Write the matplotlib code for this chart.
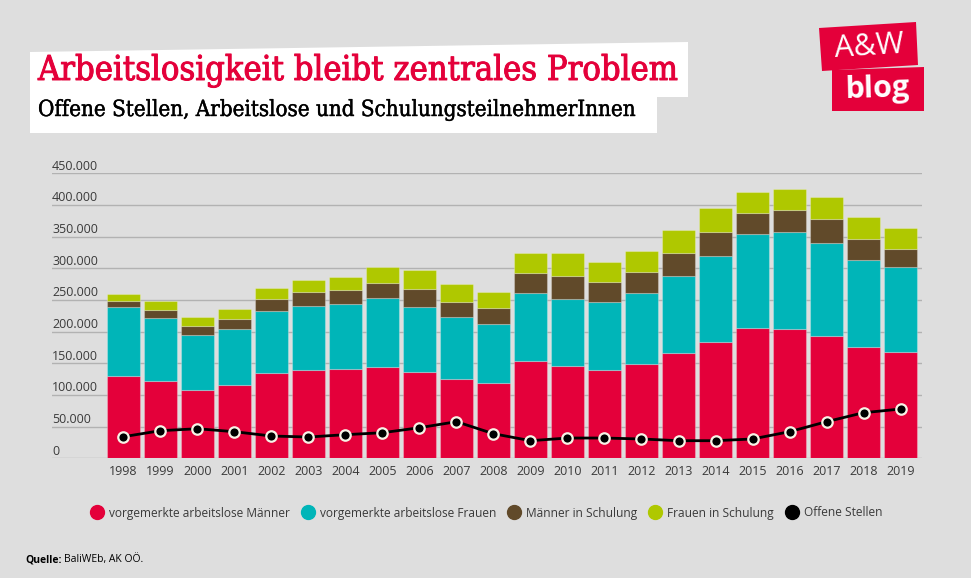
import numpy as np
import matplotlib
matplotlib.use('Agg')
import matplotlib.pyplot as plt
from matplotlib.patches import Polygon
from matplotlib.lines import Line2D
from matplotlib import transforms
import matplotlib.patheffects as pe

years = ['1998', '1999', '2000', '2001', '2002', '2003', '2004', '2005', '2006', '2007', '2008',
         '2009', '2010', '2011', '2012', '2013', '2014', '2015', '2016', '2017', '2018', '2019']

maenner_al = [130000, 122000, 107800, 115700, 134700, 139400, 141000, 144200, 136300, 125200, 118900,
              153800, 145900, 139400, 149000, 166400, 183600, 206000, 204200, 193100, 175700, 168200]
frauen_al = [108900, 99500, 86900, 88500, 97900, 101200, 102800, 108900, 102600, 97900, 93100,
             107200, 105600, 107400, 112000, 121400, 135400, 148000, 152800, 146900, 136900, 133900]
maenner_sch = [9500, 12700, 14200, 15800, 18900, 22000, 21900, 23700, 28400, 23700, 25300,
               31600, 36300, 31700, 33200, 36400, 38000, 33200, 35000, 37800, 34000, 28400]
frauen_sch = [11000, 14200, 14200, 15800, 17400, 18900, 20600, 25300, 30000, 28400, 25300,
              31600, 36400, 31500, 33100, 36100, 38500, 33600, 33500, 35100, 34700, 33000]
offene = [34100, 43600, 46700, 42000, 35200, 33600, 37300, 40400, 48300, 57800, 38800,
          27800, 32000, 32000, 30500, 27800, 27800, 30500, 42000, 57800, 72000, 77800]

labels = ['vorgemerkte arbeitslose Männer', 'vorgemerkte arbeitslose Frauen',
          'Männer in Schulung', 'Frauen in Schulung', 'Offene Stellen']
yticks = [0, 50000, 100000, 150000, 200000, 250000, 300000, 350000, 400000, 450000]

RED = '#e4003a'
CYAN = '#00b5b8'
BROWN = '#614a2a'
GREEN = '#afc800'
BG = '#dedede'
W, H = 971, 578


def fx(x):
    return x / W


def fy(y):
    return 1 - y / H


fig = plt.figure(figsize=(9.71, 5.78), dpi=100, facecolor=BG)
ax = fig.add_axes([fx(52), fy(458.3), 870 / W, 285 / H])
ax.set_facecolor(BG)

x = np.arange(len(years))
b1 = np.array(maenner_al)
b2 = b1 + np.array(frauen_al)
b3 = b2 + np.array(maenner_sch)
ec = (1, 1, 1, 0.25)
ax.bar(x, maenner_al, width=0.9, color=RED, edgecolor=ec, linewidth=0.8, zorder=2)
ax.bar(x, frauen_al, width=0.9, bottom=b1, color=CYAN, edgecolor=ec, linewidth=0.8, zorder=2)
ax.bar(x, maenner_sch, width=0.9, bottom=b2, color=BROWN, edgecolor=ec, linewidth=0.8, zorder=2)
ax.bar(x, frauen_sch, width=0.9, bottom=b3, color=GREEN, edgecolor=ec, linewidth=0.8, zorder=2)
ax.plot(x, offene, color='black', lw=2, marker='o', ms=7.5, mfc='black',
        mec='#f7f3e6', mew=1.6, zorder=5)

ax.set_xlim(-1.93, 21.58)
ax.set_ylim(0, 450000)
for s in ax.spines.values():
    s.set_visible(False)
ax.set_yticks(yticks)
ax.set_yticklabels([])
ax.yaxis.grid(True, color='#b2b2b2', lw=1)
ax.set_axisbelow(True)
ax.tick_params(axis='y', length=0)
ax.set_xticks(x)
ax.set_xticklabels(years, fontsize=9, color='#3a3a3a', family='Open Sans')
ax.tick_params(axis='x', length=0, pad=5)

trans = transforms.offset_copy(transforms.blended_transform_factory(ax.transAxes, ax.transData),
                               fig=fig, x=0, y=2.5, units='points')
for v in yticks:
    ax.text(0, v, f'{v:,}'.replace(',', '.'), transform=trans, ha='left', va='baseline',
            fontsize=9, color='#3a3a3a', family='Open Sans')

# legend
handles = [Line2D([], [], ls='none', marker='o', ms=10, mfc=c, mec=c)
           for c in [RED, CYAN, BROWN, GREEN, 'black']]
fig.legend(handles, labels, loc='center', bbox_to_anchor=(0.501, fy(513)), ncol=5,
           frameon=False, handletextpad=0.5, columnspacing=1.0, handlelength=1.0,
           prop={'family': 'Open Sans', 'size': 8.6}, labelcolor='#3a3a3a')

# title boxes
fig.patches.append(Polygon([(fx(30), fy(52)), (fx(688), fy(42)), (fx(688), fy(97)),
                            (fx(30), fy(97))], closed=True, transform=fig.transFigure,
                           facecolor='white', edgecolor='none'))
fig.patches.append(Polygon([(fx(30), fy(95)), (fx(657), fy(95)), (fx(657), fy(133)),
                            (fx(30), fy(133))], closed=True, transform=fig.transFigure,
                           facecolor='white', edgecolor='none'))

renderer = fig.canvas.get_renderer()


def fit_text(xp, yp, s, width_px, size, **kw):
    t = fig.text(fx(xp), fy(yp), s, fontsize=size, va='baseline', ha='left', **kw)
    bb = t.get_window_extent(renderer)
    t.set_fontsize(size * width_px / bb.width)
    return t


fit_text(38, 80, 'Arbeitslosigkeit bleibt zentrales Problem', 639, 20,
         color=RED, family='DejaVu Serif', fontstretch='condensed',
         path_effects=[pe.withStroke(linewidth=0.7, foreground=RED)])
fit_text(38, 116, 'Offene Stellen, Arbeitslose und SchulungsteilnehmerInnen', 599, 14,
         color='black', family='DejaVu Serif', fontstretch='condensed',
         path_effects=[pe.withStroke(linewidth=0.3, foreground='black')])

# logo
fig.patches.append(Polygon([(fx(819), fy(28)), (fx(916), fy(22)), (fx(918), fy(65)),
                            (fx(822), fy(71))], closed=True, transform=fig.transFigure,
                           facecolor=RED, edgecolor='none'))
fig.patches.append(Polygon([(fx(832), fy(70)), (fx(924), fy(67)), (fx(924), fy(111)),
                            (fx(832), fy(111))], closed=True, transform=fig.transFigure,
                           facecolor=RED, edgecolor='none'))
fig.text(fx(869), fy(47), 'A&W', color='white', fontsize=22, family='Open Sans',
         ha='center', va='center', rotation=3.5)
fig.text(fx(878), fy(98), 'blog', color='white', fontsize=22, family='Open Sans',
         fontweight='bold', ha='center', va='baseline', rotation=1.5)

# source
fig.text(fx(25), fy(562), 'Quelle:', fontsize=7.5, family='Open Sans', fontweight='bold',
         color='black', va='baseline')
fig.text(fx(64), fy(562), 'BaliWEb, AK OÖ.', fontsize=7.5, family='Open Sans',
         color='black', va='baseline')

fig.savefig('out.png', dpi=100, facecolor=BG)
